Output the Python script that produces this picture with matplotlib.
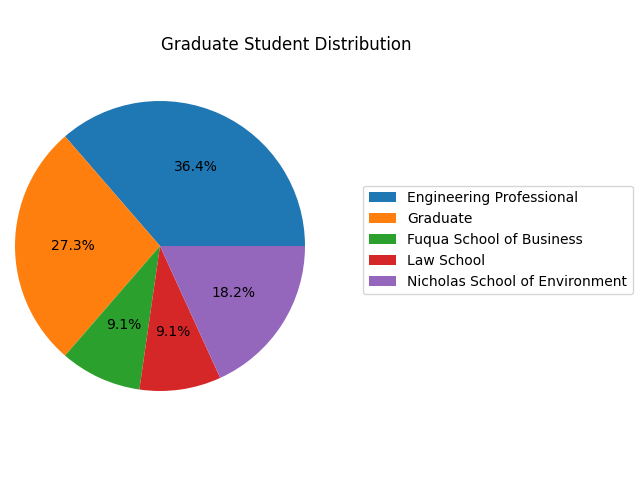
import matplotlib
matplotlib.use("Agg")
import matplotlib.pyplot as plt

labels = ["Engineering Professional", "Graduate", "Fuqua School of Business",
          "Law School", "Nicholas School of Environment"]
counts = [4, 3, 1, 1, 2]
title = "Graduate Student Distribution"

fig = plt.figure(figsize=(6.4, 4.8), dpi=100)
ax = fig.add_axes([-21.25/640, 52.75/480, 362.5/640, 362.5/480])
wedges, texts, autotexts = ax.pie(counts, autopct="%1.1f%%")
ax.set_xlim(-1.25, 1.25)
ax.set_ylim(-1.25, 1.25)
fig.text(286/640, 1 - 45/480, title, ha="center", va="center", fontsize=12)
ax.legend(wedges, labels, loc="center left", bbox_to_anchor=(363/640, 0.5),
          bbox_transform=fig.transFigure, borderaxespad=0)
fig.savefig("out.png", dpi=100)
